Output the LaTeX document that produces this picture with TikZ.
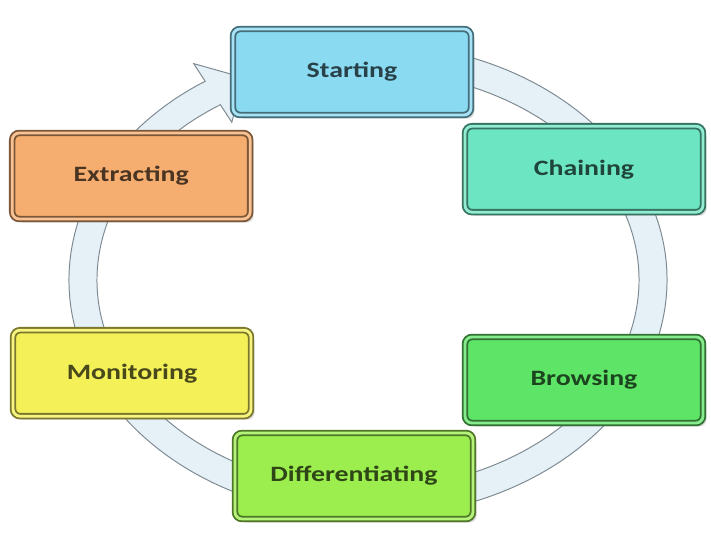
\documentclass[tikz,border=0pt]{standalone}
\usepackage{fontspec}
\setmainfont{Carlito}
\usetikzlibrary{shadows,calc}
\definecolor{startc}{HTML}{8ADAF2}
\definecolor{chainc}{HTML}{6CE6C2}
\definecolor{extractc}{HTML}{F6AE70}
\definecolor{monitorc}{HTML}{F4F058}
\definecolor{browsec}{HTML}{5EE466}
\definecolor{diffc}{HTML}{9CEE4E}
\definecolor{ringfill}{HTML}{E6F1F7}
\definecolor{ringline}{HTML}{7E8A92}
\newcommand{\steplabel}[1]{\scalebox{1.27}[1]{\bfseries #1}}
\tikzset{
  stage/.style={rounded corners=5pt, minimum width=5.95cm, minimum height=2.15cm,
    line width=1.3pt, double distance=2pt,
    drop shadow={opacity=.3,shadow xshift=2.5pt,shadow yshift=-2.5pt},
    font=\fontsize{15.6}{18}\selectfont},
  ring/.style={fill=ringfill, draw=ringline, line width=.7pt}
}
\begin{document}
\begin{tikzpicture}
\useasboundingbox (0,0) rectangle (17.775,13.45);
% the cycle arrow
\begin{scope}[shift={(9.2,6.45)}]
  \coordinate (tip) at ($(123:7.125 and 5.575)+(27:0.85)$);
  \draw[ring] (80:7.475 and 5.925)
    arc[start angle=80, end angle=-237, x radius=7.475, y radius=5.925]
    -- (123:8.0 and 6.45) -- (tip) -- (123:6.25 and 4.7) -- (123:6.775 and 5.225)
    arc[start angle=-237, end angle=80, x radius=6.775, y radius=5.225] -- cycle;
\end{scope}
% the stages
\foreach \name/\x/\y/\col/\txt in {
    start/8.8/11.65/startc/Starting,
    chain/14.6/9.22/chainc/Chaining,
    browse/14.6/3.95/browsec/Browsing,
    diff/8.85/1.55/diffc/Differentiating,
    monitor/3.3/4.12/monitorc/Monitoring,
    extract/3.28/9.05/extractc/Extracting} {
  \node[stage, fill=\col, draw=\col!50!black, double=\col!75!white,
        text=\col!30!black] (\name) at (\x,\y) {\steplabel{\txt}};
}
\end{tikzpicture}
\end{document}
